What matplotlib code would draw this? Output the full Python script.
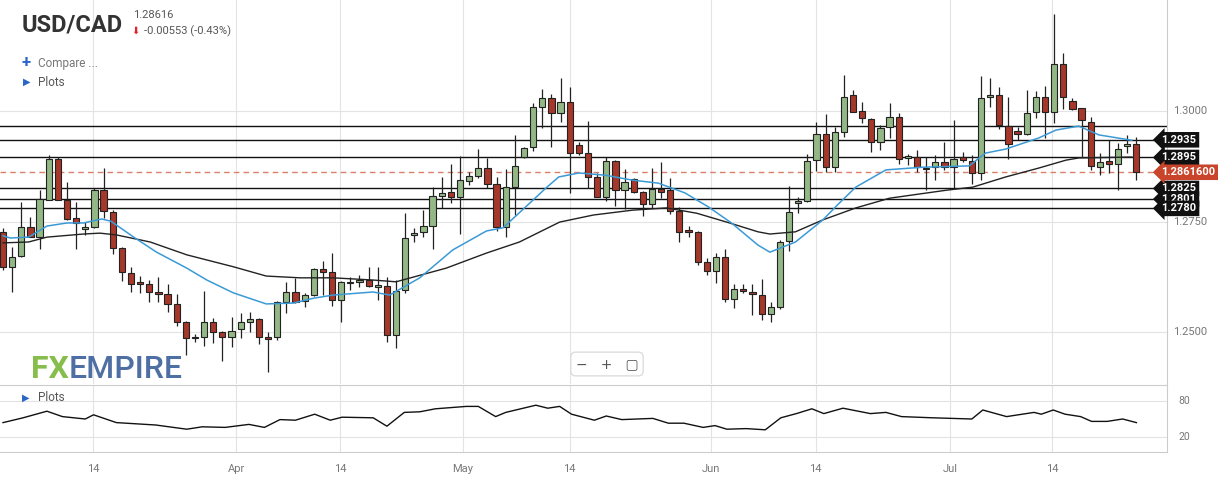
"""USD/CAD daily candles with MAs, S/R levels and RSI pane."""
import matplotlib
matplotlib.use("Agg")
import matplotlib.pyplot as plt
import numpy as np

plt.rcParams["font.family"] = ["Roboto", "DejaVu Sans"]

# OHLC per daily candle (index 0..124)
OPEN = [1.2727, 1.2647, 1.2672, 1.2738, 1.2715, 1.2799, 1.2892, 1.2799, 1.2758, 1.2733,
        1.2738, 1.2821, 1.2772, 1.2690, 1.2634, 1.2614, 1.2609, 1.2591, 1.2586, 1.2564,
        1.2523, 1.2487, 1.2489, 1.2523, 1.2501, 1.2489, 1.2507, 1.2523, 1.2530, 1.2489,
        1.2489, 1.2568, 1.2591, 1.2571, 1.2584, 1.2643, 1.2636, 1.2573, 1.2611, 1.2614,
        1.2618, 1.2602, 1.2604, 1.2494, 1.2595, 1.2720, 1.2727, 1.2740, 1.2808, 1.2817,
        1.2806, 1.2842, 1.2853, 1.2871, 1.2835, 1.2738, 1.2828, 1.2896, 1.2919, 1.3009,
        1.3029, 1.2995, 1.3020, 1.2923, 1.2905, 1.2851, 1.2806, 1.2887, 1.2821, 1.2846,
        1.2817, 1.2790, 1.2824, 1.2821, 1.2774, 1.2731, 1.2727, 1.2659, 1.2638, 1.2670,
        1.2575, 1.2598, 1.2591, 1.2584, 1.2541, 1.2557, 1.2706, 1.2792, 1.2797, 1.2889,
        1.2948, 1.2873, 1.2953, 1.3036, 1.3000, 1.2982, 1.2930, 1.2964, 1.2986, 1.2894,
        1.2896, 1.2869, 1.2873, 1.2885, 1.2873, 1.2896, 1.2887, 1.2860, 1.3032, 1.3036,
        1.2966, 1.2955, 1.2948, 1.2998, 1.3032, 1.2998, 1.3106, 1.3023, 1.3007, 1.2975,
        1.2873, 1.2887, 1.2880, 1.2921, 1.2925]
HIGH = [1.2736, 1.2693, 1.2794, 1.2760, 1.2821, 1.2901, 1.2895, 1.2840, 1.2794, 1.2749,
        1.2826, 1.2871, 1.2776, 1.2692, 1.2647, 1.2627, 1.2618, 1.2625, 1.2609, 1.2586,
        1.2525, 1.2496, 1.2593, 1.2532, 1.2503, 1.2534, 1.2543, 1.2546, 1.2532, 1.2501,
        1.2570, 1.2614, 1.2623, 1.2589, 1.2645, 1.2661, 1.2679, 1.2616, 1.2625, 1.2629,
        1.2647, 1.2647, 1.2625, 1.2618, 1.2769, 1.2736, 1.2776, 1.2828, 1.2851, 1.2880,
        1.2898, 1.2862, 1.2914, 1.2894, 1.2851, 1.2869, 1.2946, 1.2919, 1.3018, 1.3050,
        1.3038, 1.3075, 1.3054, 1.2930, 1.2977, 1.2860, 1.2896, 1.2889, 1.2869, 1.2849,
        1.2819, 1.2871, 1.2885, 1.2849, 1.2783, 1.2740, 1.2729, 1.2668, 1.2679, 1.2688,
        1.2609, 1.2609, 1.2609, 1.2620, 1.2568, 1.2708, 1.2831, 1.2806, 1.2903, 1.2975,
        1.2993, 1.2964, 1.3081, 1.3047, 1.3020, 1.2984, 1.2968, 1.3018, 1.2995, 1.2903,
        1.2912, 1.2896, 1.2901, 1.2930, 1.2980, 1.2907, 1.2901, 1.3079, 1.3075, 1.3054,
        1.3032, 1.2964, 1.3047, 1.3045, 1.3057, 1.3219, 1.3131, 1.3029, 1.3007, 1.2986,
        1.2905, 1.2934, 1.2928, 1.2946, 1.2941]
LOW = [1.2641, 1.2591, 1.2670, 1.2715, 1.2688, 1.2799, 1.2799, 1.2754, 1.2688, 1.2720,
       1.2735, 1.2758, 1.2677, 1.2616, 1.2591, 1.2589, 1.2568, 1.2568, 1.2546, 1.2514,
       1.2449, 1.2478, 1.2469, 1.2476, 1.2435, 1.2467, 1.2487, 1.2501, 1.2473, 1.2410,
       1.2482, 1.2543, 1.2566, 1.2557, 1.2582, 1.2584, 1.2559, 1.2523, 1.2595, 1.2602,
       1.2602, 1.2573, 1.2478, 1.2464, 1.2589, 1.2704, 1.2715, 1.2688, 1.2781, 1.2792,
       1.2722, 1.2833, 1.2849, 1.2826, 1.2729, 1.2715, 1.2765, 1.2894, 1.2910, 1.2962,
       1.2919, 1.2975, 1.2815, 1.2901, 1.2826, 1.2805, 1.2797, 1.2785, 1.2779, 1.2815,
       1.2763, 1.2781, 1.2803, 1.2767, 1.2704, 1.2715, 1.2652, 1.2629, 1.2611, 1.2568,
       1.2555, 1.2589, 1.2539, 1.2528, 1.2523, 1.2553, 1.2684, 1.2769, 1.2794, 1.2864,
       1.2862, 1.2862, 1.2941, 1.2998, 1.2973, 1.2907, 1.2912, 1.2939, 1.2880, 1.2878,
       1.2862, 1.2821, 1.2844, 1.2867, 1.2826, 1.2885, 1.2835, 1.2844, 1.3009, 1.2959,
       1.2892, 1.2934, 1.2946, 1.2984, 1.2939, 1.2973, 1.3005, 1.3002, 1.2896, 1.2867,
       1.2855, 1.2860, 1.2821, 1.2905, 1.2844]
CLOSE = [1.2647, 1.2670, 1.2738, 1.2715, 1.2801, 1.2892, 1.2799, 1.2756, 1.2747, 1.2738,
         1.2821, 1.2774, 1.2690, 1.2636, 1.2609, 1.2609, 1.2591, 1.2586, 1.2564, 1.2523,
         1.2487, 1.2489, 1.2523, 1.2501, 1.2489, 1.2503, 1.2523, 1.2530, 1.2489, 1.2485,
         1.2568, 1.2591, 1.2568, 1.2584, 1.2643, 1.2636, 1.2573, 1.2614, 1.2614, 1.2618,
         1.2604, 1.2607, 1.2494, 1.2593, 1.2713, 1.2724, 1.2740, 1.2808, 1.2815, 1.2806,
         1.2844, 1.2853, 1.2871, 1.2835, 1.2738, 1.2828, 1.2876, 1.2916, 1.3009, 1.3029,
         1.2995, 1.3020, 1.2905, 1.2905, 1.2851, 1.2806, 1.2887, 1.2821, 1.2840, 1.2817,
         1.2790, 1.2824, 1.2817, 1.2774, 1.2727, 1.2727, 1.2659, 1.2638, 1.2670, 1.2575,
         1.2598, 1.2593, 1.2586, 1.2541, 1.2557, 1.2704, 1.2772, 1.2797, 1.2887, 1.2948,
         1.2873, 1.2953, 1.3032, 1.2998, 1.2984, 1.2930, 1.2962, 1.2986, 1.2892, 1.2898,
         1.2873, 1.2871, 1.2885, 1.2873, 1.2892, 1.2889, 1.2860, 1.3029, 1.3036, 1.2968,
         1.2925, 1.2948, 1.2995, 1.3032, 1.2998, 1.3106, 1.3032, 1.3005, 1.2980, 1.2876,
         1.2885, 1.2880, 1.2914, 1.2925, 1.28616]

# moving averages at candle positions
MA_FAST_X = [0, 0.8, 2.8, 4.8, 7, 8.8, 10.8, 11.8, 14.3, 16.8, 20.1, 22.3, 25.2, 28.8, 31.8,
             34, 36.1, 40.5, 42.3, 45.6, 49.2, 52.9, 54.7, 56.8, 59.4, 60.8, 63, 65.9, 68.8,
             71.7, 74.6, 77.2, 79.7, 82.6, 83.9, 86.7, 89.7, 91.5, 93.3, 96.6, 100.6, 105.7,
             107.5, 109.7, 113.3, 115.2, 117.7, 119.9, 123.5]
MA_FAST = [1.2718, 1.2713, 1.2715, 1.2740, 1.2747, 1.2747, 1.2756, 1.2751, 1.2715, 1.2681,
           1.2645, 1.2618, 1.2589, 1.2564, 1.2566, 1.2577, 1.2584, 1.2591, 1.2584, 1.2623,
           1.2686, 1.2729, 1.2736, 1.2776, 1.2826, 1.2851, 1.2860, 1.2855, 1.2844, 1.2837,
           1.2815, 1.2783, 1.2747, 1.2697, 1.2681, 1.2704, 1.2754, 1.2792, 1.2828, 1.2867,
           1.2873, 1.2876, 1.2905, 1.2914, 1.2939, 1.2957, 1.2966, 1.2946, 1.2934]
MA_SLOW_X = [0, 2.8, 4.8, 8.8, 10.6, 12.4, 16.1, 20.1, 25.2, 28.8, 32.5, 36.1, 40.5, 43,
             48.5, 52.9, 56.5, 60.9, 64.6, 68.9, 72.6, 75.9, 79.5, 82.6, 83.9, 86.7, 89.7,
             93.3, 97, 103.2, 106.1, 109.7, 113.3, 116.3, 117.7, 123.5]
MA_SLOW = [1.2702, 1.2704, 1.2715, 1.2722, 1.2724, 1.2720, 1.2704, 1.2675, 1.2648, 1.2627,
           1.2623, 1.2623, 1.2618, 1.2614, 1.2645, 1.2679, 1.2704, 1.2749, 1.2765, 1.2776,
           1.2781, 1.2769, 1.2747, 1.2727, 1.2722, 1.2727, 1.2754, 1.2781, 1.2803, 1.2821,
           1.2828, 1.2851, 1.2871, 1.2889, 1.2894, 1.2896]

RSI_X = [0, 2.2, 4.8, 6.5, 9.0, 9.9, 12.4, 16.7, 20.1, 21.8, 24.3, 26.9, 28.6, 30.3, 32.0,
         34.1, 35.8, 37.1, 40.5, 42.0, 43.9, 45.6, 47.3, 50.7, 52.0, 53.9, 55.0, 58.3, 59.6,
         60.9, 62.2, 64.7, 66.0, 67.7, 71.1, 72.8, 74.5, 76.6, 77.9, 79.2, 81.3, 83.4, 85.1,
         86.8, 88.5, 89.8, 91.9, 94.9, 96.6, 98.3, 101.7, 106.0, 107.2, 109.8, 112.8, 113.6,
         114.9, 116.2, 117.9, 119.1, 120.8, 122.5, 124.0]
RSI = [44, 52, 63, 54, 50, 57, 44, 40, 33, 37, 36, 41, 36, 49, 48, 58, 48, 53, 52, 38, 61, 62,
       67, 71, 71, 54, 61, 73, 68, 71, 58, 48, 55, 49, 51, 43, 43, 36, 39, 33, 34, 32, 52, 59,
       67, 59, 68, 59, 61, 54, 52, 50, 65, 54, 61, 58, 65, 58, 54, 46, 46, 50, 44]

LEVELS = [1.2966, 1.2935, 1.2895, 1.2825, 1.2801, 1.2780]
LEVEL_LABELS = [None, "1.2935", "1.2895", "1.2825", "1.2801", "1.2780"]
LAST = 1.28616
LAST_LABEL = "1.2861600"

DATE_POS = [9.85, 25.5, 36.9, 50.3, 62.0, 77.5, 88.9, 103.6, 114.8]
DATE_LABELS = ["14", "Apr", "14", "May", "14", "Jun", "14", "Jul", "14"]
PRICE_TICKS = [1.2500, 1.2750, 1.3000]

GREEN, RED = "#93b886", "#a5382a"
GRID = "#e3e3e3"

fig = plt.figure(figsize=(12.18, 4.82), dpi=100)
ax = fig.add_axes([0, 98 / 482, 1167 / 1218, 384 / 482])
ax2 = fig.add_axes([0, 30 / 482, 1167 / 1218, 66 / 482])
XL = (-0.33, 127.35)

o, h, l, c = map(np.array, (OPEN, HIGH, LOW, CLOSE))
x = np.arange(len(o))
up = c >= o
cols = np.where(up, GREEN, RED)
ax.vlines(x, l, h, color="#222222", lw=0.9, zorder=3)
ax.bar(x, np.maximum(np.abs(c - o), 0.00015), 0.68, bottom=np.minimum(o, c),
       color=cols, edgecolor="#222222", lw=0.8, zorder=4)

ax.plot(MA_SLOW_X, MA_SLOW, color="#222222", lw=1.0, zorder=5)
ax.plot(MA_FAST_X, MA_FAST, color="#3b9ad6", lw=1.1, zorder=5)

for lv in LEVELS:
    ax.axhline(lv, color="#111111", lw=1.0, zorder=2)
ax.axhline(LAST, color="#d9806c", lw=1.0, ls=(0, (4, 3)), zorder=2)

ax.set_xlim(*XL)
ax.set_ylim(1.2383, 1.3251)
ax.set_xticks(DATE_POS)
ax.set_yticks(PRICE_TICKS)
ax.grid(True, color=GRID, lw=0.8, zorder=0)
ax.tick_params(length=0, labelbottom=False, labelleft=False)
for s in ("top", "left", "bottom"):
    ax.spines[s].set_visible(False)
ax.spines["right"].set_color("#cccccc")

for t in PRICE_TICKS:
    ax.text(1.005, (t - 1.2383) / (1.3251 - 1.2383), f"{t:.4f}", transform=ax.transAxes,
            fontsize=8, color="#777777", va="center", ha="left")


def tag(y, text, fc, z):
    ax.annotate(text, xy=(1.0, y), xycoords=("axes fraction", "data"),
                xytext=(-4, 0), textcoords="offset points", fontsize=8,
                fontweight="bold", color="white", va="center", ha="left",
                bbox=dict(boxstyle="larrow,pad=0.25", fc=fc, ec="none"),
                annotation_clip=False, zorder=z)


for lv, lab in zip(LEVELS, LEVEL_LABELS):
    if lab:
        tag(lv, lab, "#111111", 10)
tag(LAST, LAST_LABEL, "#c8452b", 11)

# header
fig.text(22 / 1218, 1 - 25 / 482, "USD/CAD", fontsize=17, fontweight="bold",
         color="#333333", va="center", fontstretch="condensed")
fig.text(133 / 1218, 1 - 15 / 482, "1.28616", fontsize=8, color="#555555", va="center")
fig.text(131 / 1218, 1 - 31 / 482, "\u2b07", fontsize=7, color="#e0202a", va="center",
         family="DejaVu Sans")
fig.text(144 / 1218, 1 - 31 / 482, "-0.00553 (-0.43%)", fontsize=8, color="#555555",
         va="center")
fig.text(22 / 1218, 1 - 63 / 482, "+", fontsize=12, color="#2a66c8", va="center",
         fontweight="bold")
fig.text(38 / 1218, 1 - 63 / 482, "Compare ...", fontsize=8.5, color="#777777", va="center")
fig.text(23 / 1218, 1 - 82 / 482, "\u25b6", fontsize=7, color="#2a66c8", va="center",
         family="DejaVu Sans")
fig.text(38 / 1218, 1 - 82 / 482, "Plots", fontsize=8.5, color="#555555", va="center")

# watermark
fig.text(31 / 1218, 1 - 369 / 482, "FX", fontsize=23, color="#86bd4c", va="center",
         fontweight="bold")
fig.text(69 / 1218, 1 - 369 / 482, "EMPIRE", fontsize=23, color="#4d6fa3", va="center",
         fontweight="medium")

# zoom controls
fig.text(607 / 1218, 1 - 364 / 482, "\u2212   +   \u25a2", fontsize=10, color="#555555",
         va="center", ha="center", family="DejaVu Sans",
         bbox=dict(boxstyle="round,pad=0.35", fc="white", ec="#dddddd"))

# RSI pane
ax2.plot(RSI_X, RSI, color="#111111", lw=1.0)
ax2.set_xlim(*XL)
ax2.set_ylim(-5, 105)
ax2.set_yticks([20, 80])
ax2.set_xticks(DATE_POS)
ax2.set_xticklabels(DATE_LABELS)
ax2.grid(True, color=GRID, lw=0.8)
ax2.tick_params(length=0, labelleft=False, labelsize=8, labelcolor="#777777", pad=9)
for s in ("top", "left"):
    ax2.spines[s].set_visible(False)
ax2.spines["right"].set_color("#cccccc")
ax2.spines["bottom"].set_color("#cccccc")
for t in (20, 80):
    ax2.text(1.01, (t + 5) / 110, str(t), transform=ax2.transAxes, fontsize=7.5,
             color="#777777", va="center")
ax2.text(22 / 1167, 0.82, "\u25b6", transform=ax2.transAxes, fontsize=7, color="#2a66c8",
         va="center", family="DejaVu Sans")
ax2.text(38 / 1167, 0.82, "Plots", transform=ax2.transAxes, fontsize=8.5, color="#555555",
         va="center")
fig.add_artist(plt.Line2D([0, 1167 / 1218], [97 / 482, 97 / 482], color="#cccccc", lw=0.8))

fig.savefig("out.png", dpi=100)
